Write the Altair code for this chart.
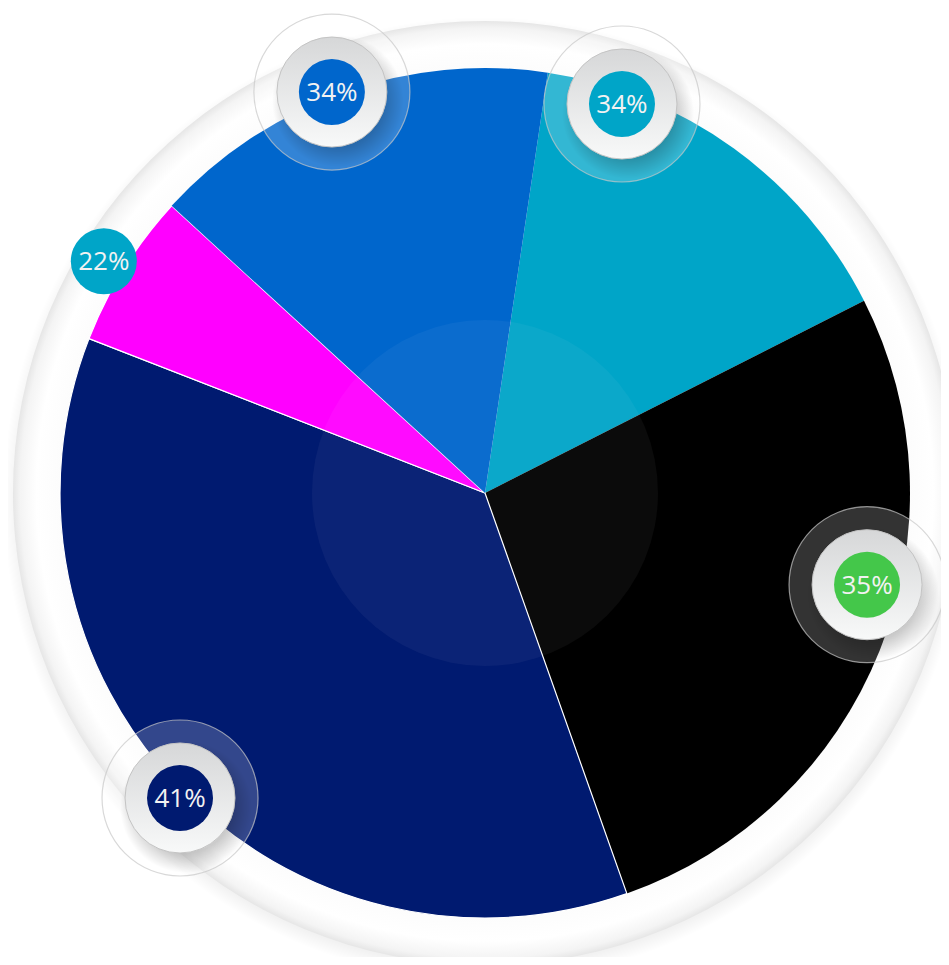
import math
import altair as alt
import pandas as pd

# ---- data ----
slice_names = ["Cyan", "Black", "Navy", "Magenta", "Blue"]
slice_values = [54.6, 97.4, 130.8, 21.2, 56.0]
slice_colors = ["#00a5c8", "#000000", "#001a70", "#ff00ff", "#0066cc"]
start_deg = 8.5

badge_ids = ["b1", "b2", "b3", "b4", "b5"]
badge_labels = ["34%", "34%", "22%", "35%", "41%"]
badge_angle = [339.1, 19.4, 301.3, 103.5, 225.0]
badge_dist = [429.2, 412.4, 446.1, 392.9, 431.3]
badge_kind = ["ring", "ring", "plain", "ring", "ring"]
badge_colors = ["#0066cc", "#00a5c8", "#00a5c8", "#44c74a", "#001a70"]

W, H = 933, 949
CX, CY = 477, 485
R_PIE = 425
R_RING = 472

slices = pd.DataFrame({"name": slice_names, "value": slice_values,
                       "idx": list(range(len(slice_names)))})
badges = pd.DataFrame({"id": badge_ids, "label": badge_labels,
                       "angle": badge_angle, "dist": badge_dist,
                       "kind": badge_kind})
single = pd.DataFrame({"c": [0]})

xs = alt.Scale(domain=[-CX, W - CX], nice=False, zero=False)
ys = alt.Scale(domain=[-(H - CY), CY], nice=False, zero=False)
X0 = alt.X(datum=0, type="quantitative", scale=xs, axis=None)
Y0 = alt.Y(datum=0, type="quantitative", scale=ys, axis=None)


def sz(r):
    return 4 * r * r


# shadow under the outer ring
shadow = alt.Chart(single).mark_circle(
    size=sz(R_RING + 10), opacity=1,
    fill={"gradient": "radial", "x1": 0.5, "y1": 0.5, "r1": 0,
          "x2": 0.5, "y2": 0.5, "r2": 0.5,
          "stops": [{"offset": 0.9, "color": "rgba(0,0,0,0.16)"},
                    {"offset": 0.97, "color": "rgba(0,0,0,0.05)"},
                    {"offset": 1.0, "color": "rgba(0,0,0,0)"}]},
).encode(x=X0, y=alt.Y(datum=-6, type="quantitative", scale=ys, axis=None))

ring = alt.Chart(single).mark_circle(
    size=sz(R_RING), opacity=1,
    fill={"gradient": "radial", "x1": 0.5, "y1": 0.5, "r1": 0,
          "x2": 0.5, "y2": 0.5, "r2": 0.5,
          "stops": [{"offset": 0.88, "color": "#fbfbfb"},
                    {"offset": 0.95, "color": "#ffffff"},
                    {"offset": 0.985, "color": "#f4f4f4"},
                    {"offset": 1.0, "color": "#e6e6e6"}]},
).encode(x=X0, y=Y0)

start = math.radians(start_deg)
pie = alt.Chart(slices).mark_arc(radius=R_PIE, stroke="white").encode(
    theta=alt.Theta("value:Q", stack=True,
                    scale=alt.Scale(range=[start, start + 2 * math.pi])),
    order=alt.Order("idx:Q"),
    color=alt.Color("name:N", scale=alt.Scale(domain=slice_names, range=slice_colors),
                    legend=None),
    strokeWidth=alt.condition("datum.name == 'Navy' || datum.name == 'Magenta'",
                              alt.value(1.2), alt.value(0)),
    x=X0, y=Y0,
)

center = alt.Chart(single).mark_circle(
    size=sz(173), opacity=1, fill="white", fillOpacity=0.045
).encode(x=X0, y=Y0)

bbase = alt.Chart(badges).transform_calculate(
    px="datum.dist * sin(datum.angle * PI / 180)",
    py="datum.dist * cos(datum.angle * PI / 180)",
)
BX = alt.X("px:Q", scale=xs, axis=None)
BY = alt.Y("py:Q", scale=ys, axis=None)

glass = bbase.transform_filter("datum.kind == 'ring'").mark_circle(
    size=sz(78), opacity=1, fill="white", fillOpacity=0.2,
    stroke="#c8c8c8", strokeWidth=1.2, strokeOpacity=0.7,
).encode(x=BX, y=BY)

bshadow = bbase.transform_filter("datum.kind == 'ring'").transform_calculate(
    sx="datum.px + 6", sy="datum.py - 9"
).mark_circle(
    size=sz(66), opacity=1,
    fill={"gradient": "radial", "x1": 0.5, "y1": 0.5, "r1": 0,
          "x2": 0.5, "y2": 0.5, "r2": 0.5,
          "stops": [{"offset": 0.7, "color": "rgba(0,0,0,0.2)"},
                    {"offset": 1.0, "color": "rgba(0,0,0,0)"}]},
).encode(x=alt.X("sx:Q", scale=xs, axis=None), y=alt.Y("sy:Q", scale=ys, axis=None))

white_ring = bbase.transform_filter("datum.kind == 'ring'").mark_circle(
    size=sz(55), opacity=1,
    fill={"gradient": "linear", "x1": 0, "y1": 0, "x2": 0, "y2": 1,
          "stops": [{"offset": 0, "color": "#d6d7d8"},
                    {"offset": 1, "color": "#f8f9f9"}]},
    stroke="#c4c4c4", strokeWidth=1,
).encode(x=BX, y=BY)

inner = bbase.mark_circle(size=sz(33), opacity=1).encode(
    x=BX, y=BY,
    color=alt.Color("id:N", scale=alt.Scale(domain=badge_ids, range=badge_colors),
                    legend=None),
)

text = bbase.mark_text(font="Open Sans", fontSize=26, color="#f2f2f2",
                       align="center", baseline="middle", dy=1).encode(
    x=BX, y=BY, text="label:N")

chart = alt.layer(shadow, ring, pie, center, glass, bshadow, white_ring, inner, text).resolve_scale(
    color="independent"
).properties(
    width=W, height=H, padding=0, autosize="none", background="white"
).configure_view(stroke=None)

chart.save("out.html", embed_options={"renderer": "svg", "actions": False})
